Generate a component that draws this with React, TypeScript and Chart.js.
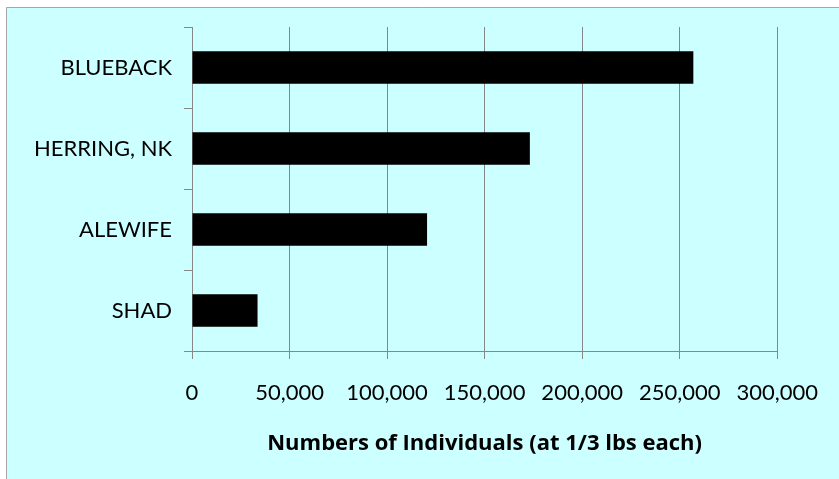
import React, { useEffect, useRef } from "react";
import { Chart, registerables } from "chart.js";

Chart.register(...registerables);

const species = ["BLUEBACK", "HERRING, NK", "ALEWIFE", "SHAD"];
const individuals = [257000, 173200, 120500, 33600];
const axisMin = 0;
const axisMax = 300000;
const axisStep = 50000;
const axisTitle = "Numbers of Individuals (at 1/3 lbs each)";

const W = 839;
const H = 479;
const FONT = "Lato, 'DejaVu Sans', sans-serif";
const TITLE_FONT = "'Open Sans', Lato, sans-serif";
const GRID = "#878787";

// Panel background: white page with a light-cyan framed panel.
const panelBackground = {
  id: "panelBackground",
  beforeDraw(chart: Chart) {
    const ctx = chart.ctx;
    ctx.save();
    ctx.fillStyle = "#ffffff";
    ctx.fillRect(0, 0, W, H);
    ctx.fillStyle = "#ccffff";
    ctx.fillRect(6, 7, W, H);
    ctx.strokeStyle = "#a6a6a6";
    ctx.lineWidth = 1;
    ctx.beginPath();
    ctx.moveTo(6.5, H);
    ctx.lineTo(6.5, 7.5);
    ctx.lineTo(W, 7.5);
    ctx.stroke();
    ctx.restore();
  },
};

export default function App() {
  const ref = useRef<HTMLCanvasElement | null>(null);

  useEffect(() => {
    document.body.style.margin = "0";
    const canvas = ref.current;
    if (!canvas) return;
    const chart = new Chart(canvas, {
      type: "bar",
      data: {
        labels: species,
        datasets: [
          {
            data: individuals,
            backgroundColor: "#000000",
            borderWidth: 0,
            barPercentage: 0.4,
            categoryPercentage: 1,
          },
        ],
      },
      options: {
        indexAxis: "y",
        responsive: false,
        devicePixelRatio: 1,
        animation: false,
        layout: { padding: { top: 27, right: 60, bottom: 0, left: 0 } },
        plugins: {
          legend: { display: false },
          tooltip: { enabled: false },
        },
        scales: {
          x: {
            min: axisMin,
            max: axisMax,
            ticks: {
              stepSize: axisStep,
              color: "#000000",
              font: { family: FONT, size: 22 },
              padding: 21,
              maxRotation: 0,
              callback: (v: any) => Number(v).toLocaleString("en-US"),
            },
            grid: {
              color: GRID,
              lineWidth: 1,
              drawOnChartArea: true,
              drawTicks: true,
              tickLength: 8,
            },
            border: { display: true, color: GRID, width: 1 },
            title: {
              display: true,
              text: axisTitle,
              color: "#000000",
              font: { family: TITLE_FONT, size: 22, weight: "bold" },
              padding: { top: 0, bottom: 22 },
            },
            afterFit: (scale: any) => {
              scale.height = 128;
            },
          },
          y: {
            ticks: {
              color: "#000000",
              font: { family: FONT, size: 22 },
              padding: 12,
            },
            grid: {
              offset: true,
              color: GRID,
              drawOnChartArea: false,
              drawTicks: true,
              tickLength: 8,
            },
            border: { display: true, color: GRID, width: 1 },
            afterFit: (scale: any) => {
              scale.width = 192;
            },
          },
        },
      },
      plugins: [panelBackground],
    });
    return () => chart.destroy();
  }, []);

  return (
    <div style={{ width: W, height: H }}>
      <canvas ref={ref} width={W} height={H} style={{ display: "block" }} />
    </div>
  );
}
